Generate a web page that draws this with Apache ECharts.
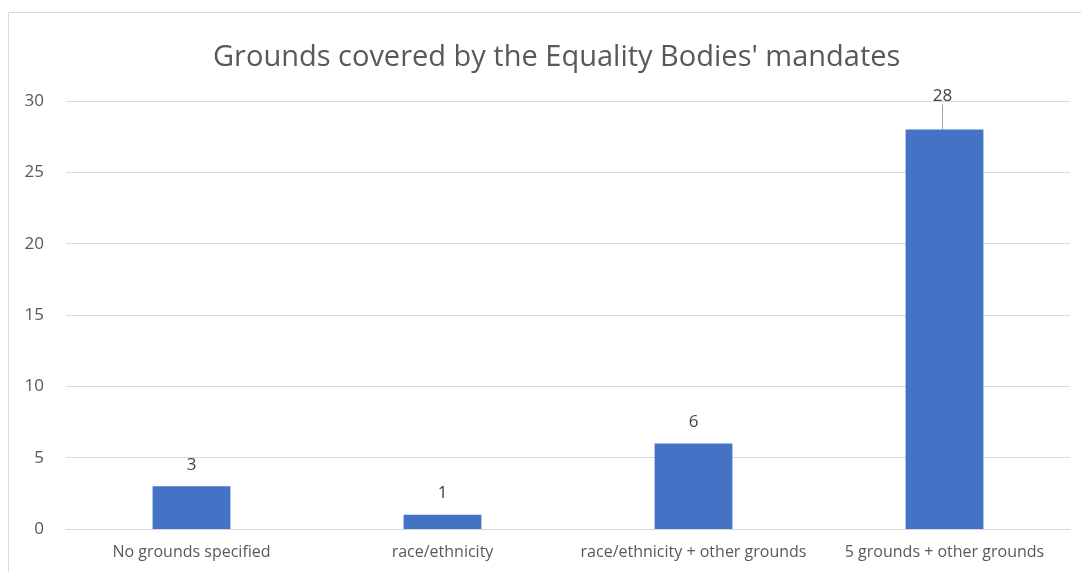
<!DOCTYPE html>
<html>
<head>
<meta charset="utf-8">
<script src="https://cdn.jsdelivr.net/npm/echarts@6/dist/echarts.min.js"></script>
<style>
  html, body { margin: 0; padding: 0; background: #fff; }
  #chart { width: 1081px; height: 572px; }
</style>
</head>
<body>
<div id="chart"></div>
<script>
var categories = ['No grounds specified', 'race/ethnicity', 'race/ethnicity + other grounds', '5 grounds + other grounds'];
var counts = [3, 1, 6, 28];
var chartTitle = "Grounds covered by the Equality Bodies' mandates";

var chartDom = document.getElementById('chart');
var chart = echarts.init(chartDom);

var font = 'Open Sans, Noto Sans, sans-serif';

// only the tallest bar gets its label pushed up with a leader line
var barData = counts.map(function (v, i) {
    return {
        value: v,
        labelLine: { show: i === 3, lineStyle: { color: '#a6a6a6', width: 1 } }
    };
});

var option = {
    animation: false,
    textStyle: { fontFamily: font },
    graphic: [
        {
            type: 'rect',
            shape: { x: 8.5, y: 12.5, width: 1090, height: 600 },
            style: { fill: 'none', stroke: '#d9d9d9', lineWidth: 1 },
            silent: true
        }
    ],
    title: {
        text: chartTitle,
        left: 208,
        top: 38,
        textStyle: { fontFamily: font, fontSize: 29, fontWeight: 'normal', color: '#595959' }
    },
    grid: { left: 66, right: 11, top: 101, bottom: 43 },
    xAxis: {
        type: 'category',
        data: categories,
        axisLine: { lineStyle: { color: '#d9d9d9' } },
        axisTick: { show: false },
        axisLabel: { color: '#595959', fontSize: 16, margin: 15, interval: 0, fontFamily: font }
    },
    yAxis: {
        type: 'value',
        min: 0,
        max: 30,
        interval: 5,
        axisLine: { show: false },
        axisTick: { show: false },
        axisLabel: { color: '#595959', fontSize: 17, margin: 22, fontFamily: font },
        splitLine: { lineStyle: { color: '#d9d9d9' } }
    },
    series: [
        {
            type: 'bar',
            data: barData,
            barWidth: '31%',
            itemStyle: { color: '#4472C4' },
            label: {
                show: true,
                position: 'top',
                distance: 13,
                color: '#404040',
                fontSize: 17,
                fontFamily: font
            },
            labelLayout: function (params) {
                if (params.dataIndex === 3) {
                    return { dy: -12, dx: -2 };
                }
                return {};
            }
        }
    ]
};

chart.setOption(option);

const resizeObserver = new ResizeObserver(() => {
    chart.resize();
});
resizeObserver.observe(chartDom);
</script>
</body>
</html>
